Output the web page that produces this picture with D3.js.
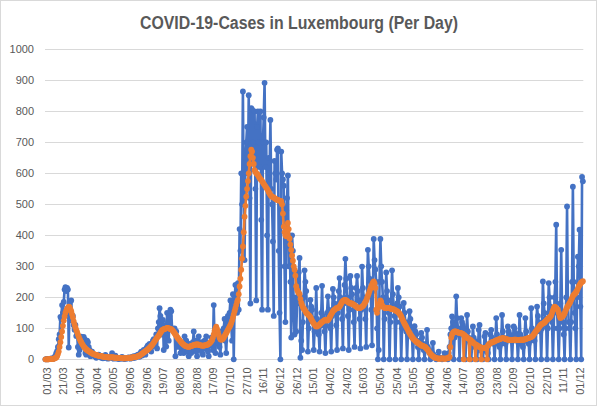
<!doctype html>
<html lang="en">
<head>
    <meta charset="utf-8" />
    <title>COVID-19-Cases in Luxembourg (Per Day)</title>
    <script src="https://d3js.org/d3.v7.min.js"></script>
    <style>
        body { margin: 0; background: #fff; }
        text { font-family: "Liberation Sans", Arial, sans-serif; }
    </style>
</head>
<body>
<div id="my_dataviz"></div>
<script>
    // daily new cases, one row per week (first row starts Sun 01/03/2020)
    var dailyCases = [
        0,0,1,0,1,1,2,  2,3,1,4,7,12,20,  26,40,65,80,137,130,175,  150,185,225,233,220,230,225,
        38,180,150,190,125,140,110,  95,111,75,80,40,15,30,  45,73,50,60,72,65,20,  15,60,55,40,30,10,20,
        25,18,15,10,12,5,8,  10,15,12,8,5,10,3,  4,9,14,6,5,2,4,  8,6,10,20,3,2,4,
        12,6,2,4,1,3,2,  5,8,2,3,1,4,2,  3,5,6,3,2,6,8,  4,10,5,6,12,9,15,
        10,8,20,25,12,18,30,  22,15,35,40,45,30,50,  47,25,40,60,65,45,63,  80,35,100,120,165,140,80,
        110,127,30,110,85,41,150,  120,60,140,160,155,100,95,  95,100,10,90,70,40,55,  60,20,50,35,45,20,74,
        30,60,25,40,10,50,45,  20,35,55,90,30,60,25,  10,45,74,40,30,55,20,  15,40,60,35,74,50,25,
        10,50,45,70,55,30,175,  60,20,90,80,70,50,40,  15,70,90,80,100,130,60,  20,100,140,120,150,190,110,
        60,210,0,180,240,200,150,  246,160,420,350,600,500,864,  500,320,650,700,750,600,852,  520,180,810,806,700,650,800,
        550,190,750,800,700,620,800,  450,160,700,780,892,620,700,  400,160,650,600,772,550,500,  380,140,640,600,580,676,680,
        350,150,0,670,600,580,560,  300,120,480,520,593,300,400,  250,70,400,350,140,80,200,  90,180,250,280,327,5,60,
        // 2021
        30,120,200,287,250,220,150,  25,100,150,192,170,160,120,  30,90,130,230,130,100,80,  25,110,150,237,140,110,90,
        20,110,150,203,160,130,100,  25,140,227,200,180,150,110,  30,150,220,262,200,180,130,  35,180,240,324,260,200,140,
        30,160,269,230,210,180,120,  40,170,230,269,220,190,130,  35,160,299,230,200,170,130,  40,200,353,300,260,230,160,
        45,220,388,320,290,250,100,  0,30,250,388,300,250,200,  0,130,180,280,220,190,150,  0,120,190,287,210,170,140,
        0,120,180,230,200,170,120,  0,100,140,182,150,120,90,  0,80,120,155,130,100,70,  0,60,107,90,80,60,40,
        0,40,60,85,70,50,30,  0,30,50,95,40,30,20,  0,10,20,53,15,10,5,  0,3,8,25,5,4,2,
        0,3,6,20,5,4,3,  0,20,40,80,100,138,120,  0,70,110,203,133,100,80,  0,80,133,120,110,100,90,
        0,60,143,90,70,60,50,  0,40,106,70,60,50,40,  0,30,95,111,40,30,25,  0,30,74,85,30,25,20,
        0,50,80,95,70,60,50,  0,50,133,80,60,50,40,  0,50,143,90,70,60,50,  0,60,106,90,80,70,60,
        0,60,106,100,85,75,60,  0,50,143,80,70,50,40,  0,60,133,90,70,60,50,  0,60,165,100,80,70,60,
        0,90,170,140,120,110,90,  0,100,251,180,150,130,110,  0,100,246,200,170,150,120,  0,100,200,250,434,150,100,
        0,100,180,353,150,120,80,  0,100,200,493,180,120,100,  0,120,250,557,250,150,100,  0,200,331,300,418,170,0,
        588,574
    ];

    // 7 day average, same days
    var weekAverage = [
        0,0,0,0,0,1,1,  1,1,2,2,3,4,6,  10,17,25,40,55,72,90,  108,125,138,150,157,163,167,
        170,168,162,155,145,135,122,  112,103,95,88,80,73,66,  60,55,50,46,41,38,35,  32,30,28,26,25,23,21,
        19,18,17,16,15,14,13,  12,12,11,11,10,9,9,  8,8,7,7,7,6,6,  6,6,7,7,6,6,5,
        5,5,5,4,4,4,4,  4,4,3,3,3,3,4,  4,4,4,5,5,5,6,  6,7,7,8,8,9,10,
        11,12,14,16,18,20,22,  24,26,28,30,32,35,37,  40,43,46,50,54,58,62,  66,70,73,77,81,86,90,
        94,96,97,98,99,100,101,  101,100,99,98,97,95,92,  88,84,80,76,72,68,65,  62,58,55,52,49,47,45,
        43,42,41,41,40,41,42,  43,44,45,46,47,47,48,  48,48,47,46,45,45,44,  44,44,45,46,46,47,48,
        50,52,55,58,62,70,80,  92,100,105,98,88,78,70,  65,63,64,66,70,75,80,  85,90,95,100,105,110,117,
        125,135,145,155,165,175,185,  192,210,235,260,289,325,364,  410,460,495,525,550,575,600,  630,655,676,670,650,630,610,
        605,600,598,595,590,585,582,  579,575,570,566,562,558,554,  550,546,540,535,530,527,525,  523,522,520,518,516,515,514,
        512,512,511,510,500,470,428,  410,400,397,420,440,420,390,  370,353,335,318,300,289,270,  236,225,218,215,210,195,183,
        // 2021
        175,168,163,160,155,150,148,  145,142,140,136,130,125,120,  116,112,108,106,106,108,110,  112,115,118,120,122,124,126,
        127,126,125,127,130,135,140,  145,150,155,158,160,162,165,  165,166,168,170,175,180,185,  188,190,192,192,190,188,185,
        183,182,180,180,180,178,176,  175,172,170,168,166,165,165,  166,168,170,172,175,180,185,  190,198,205,212,220,228,235,
        242,248,251,245,230,160,150,  165,175,180,190,185,175,170,  168,166,165,165,166,166,165,  165,164,163,162,162,161,160,
        158,156,155,153,150,147,143,  138,132,126,120,115,110,105,  100,95,90,85,80,76,72,  68,65,62,60,57,55,53,
        51,49,47,45,44,43,42,  41,39,36,33,30,26,21,  18,15,12,10,8,6,5,  4,3,3,2,2,2,3,
        3,3,2,2,2,3,3,  4,5,8,40,70,80,85,  88,90,90,89,88,87,86,  85,85,84,83,82,0,78,
        75,73,70,68,66,0,63,  60,57,55,52,50,0,47,  45,43,41,40,39,0,37,  36,36,36,37,38,0,44,
        48,50,52,54,55,56,57,  58,60,61,62,63,64,65,  66,67,68,68,68,67,66,  65,64,63,63,62,62,62,
        62,62,63,63,63,63,62,  62,62,62,63,63,63,63,  63,64,65,66,67,68,69,  70,71,72,74,76,80,84,
        88,92,95,98,102,106,110,  112,114,116,117,119,122,125,  128,130,133,135,138,142,150,  158,165,170,168,165,162,160,
        150,140,133,135,138,140,143,  148,155,162,168,172,176,181,  186,192,198,204,208,211,213,  218,222,228,235,240,244,248,
        250,252
    ];

    // a label every 20 days
    var dayLabels = ["01/03", "21/03", "10/04", "30/04", "20/05", "09/06", "29/06", "19/07", "08/08",
        "28/08", "17/09", "07/10", "27/10", "16/11", "06/12", "26/12", "15/01", "04/02", "24/02",
        "16/03", "05/04", "25/04", "15/05", "04/06", "24/06", "14/07", "03/08", "23/08", "12/09",
        "02/10", "22/10", "11/11", "01/12"];
    var labelStep = 20;

    var yTicks = [0, 100, 200, 300, 400, 500, 600, 700, 800, 900, 1000];

    var width = 598,
        height = 406,
        margin = { top: 49.3, right: 14.7, bottom: 46.7, left: 45 },
        blue = "#4472c4",
        orange = "#ed7d31";

    var svg = d3.select("#my_dataviz")
        .append("svg")
        .attr("width", width)
        .attr("height", height);

    // chart border
    svg.append("rect")
        .attr("x", 0.5).attr("y", 0.5)
        .attr("width", width - 2).attr("height", height - 1)
        .attr("fill", "#fff")
        .attr("stroke", "#d9d9d9");

    var days = d3.range(dailyCases.length);

    var x = d3.scalePoint()
        .domain(days)
        .range([margin.left, width - margin.right])
        .padding(0.5);

    var y = d3.scaleLinear()
        .domain([0, 1000])
        .range([height - margin.bottom, margin.top]);

    // grid lines
    svg.append("g")
        .selectAll("line")
        .data(yTicks)
        .enter().append("line")
        .attr("x1", margin.left)
        .attr("x2", width - margin.right)
        .attr("y1", d => Math.round(y(d)) + 0.5)
        .attr("y2", d => Math.round(y(d)) + 0.5)
        .attr("stroke", "#d9d9d9")
        .attr("stroke-width", 1);

    // Y axis
    var yAxis = d3.axisLeft(y).tickValues(yTicks).tickFormat(d3.format("d")).tickSize(0).tickPadding(11);
    svg.append("g")
        .attr("transform", `translate(${margin.left},0)`)
        .call(yAxis)
        .call(g => g.select(".domain").remove())
        .selectAll("text")
        .attr("fill", "#595959")
        .style("font-size", "11px");

    // X axis, rotated labels
    var xAxis = d3.axisBottom(x)
        .tickValues(days.filter(d => d % labelStep === 0))
        .tickFormat(d => dayLabels[d / labelStep])
        .tickSize(0);
    svg.append("g")
        .attr("transform", `translate(0,${height - margin.bottom})`)
        .call(xAxis)
        .call(g => g.select(".domain").remove())
        .selectAll("text")
        .attr("fill", "#595959")
        .style("font-size", "11px")
        .attr("text-anchor", "end")
        .attr("dy", "0.35em")
        .attr("transform", "translate(1,8) rotate(-90)")
        .attr("x", 0)
        .attr("y", 0);

    function drawSeries(values, color) {
        var line = d3.line()
            .x((d, i) => x(i))
            .y(d => y(d));

        svg.append("path")
            .datum(values)
            .attr("fill", "none")
            .attr("stroke", color)
            .attr("stroke-width", 2.6)
            .attr("stroke-linejoin", "round")
            .attr("d", line);

        svg.append("g")
            .selectAll("circle")
            .data(values)
            .enter().append("circle")
            .attr("cx", (d, i) => x(i))
            .attr("cy", d => y(d))
            .attr("r", 2.9)
            .attr("fill", color);
    }

    drawSeries(dailyCases, blue);
    drawSeries(weekAverage, orange);

    // title
    svg.append("text")
        .attr("x", 299)
        .attr("y", 28.5)
        .attr("text-anchor", "middle")
        .attr("fill", "#595959")
        .attr("textLength", 318)
        .attr("lengthAdjust", "spacingAndGlyphs")
        .style("font-size", "17.5px")
        .style("font-weight", "bold")
        .text("COVID-19-Cases in Luxembourg (Per Day)");
</script>
</body>
</html>
